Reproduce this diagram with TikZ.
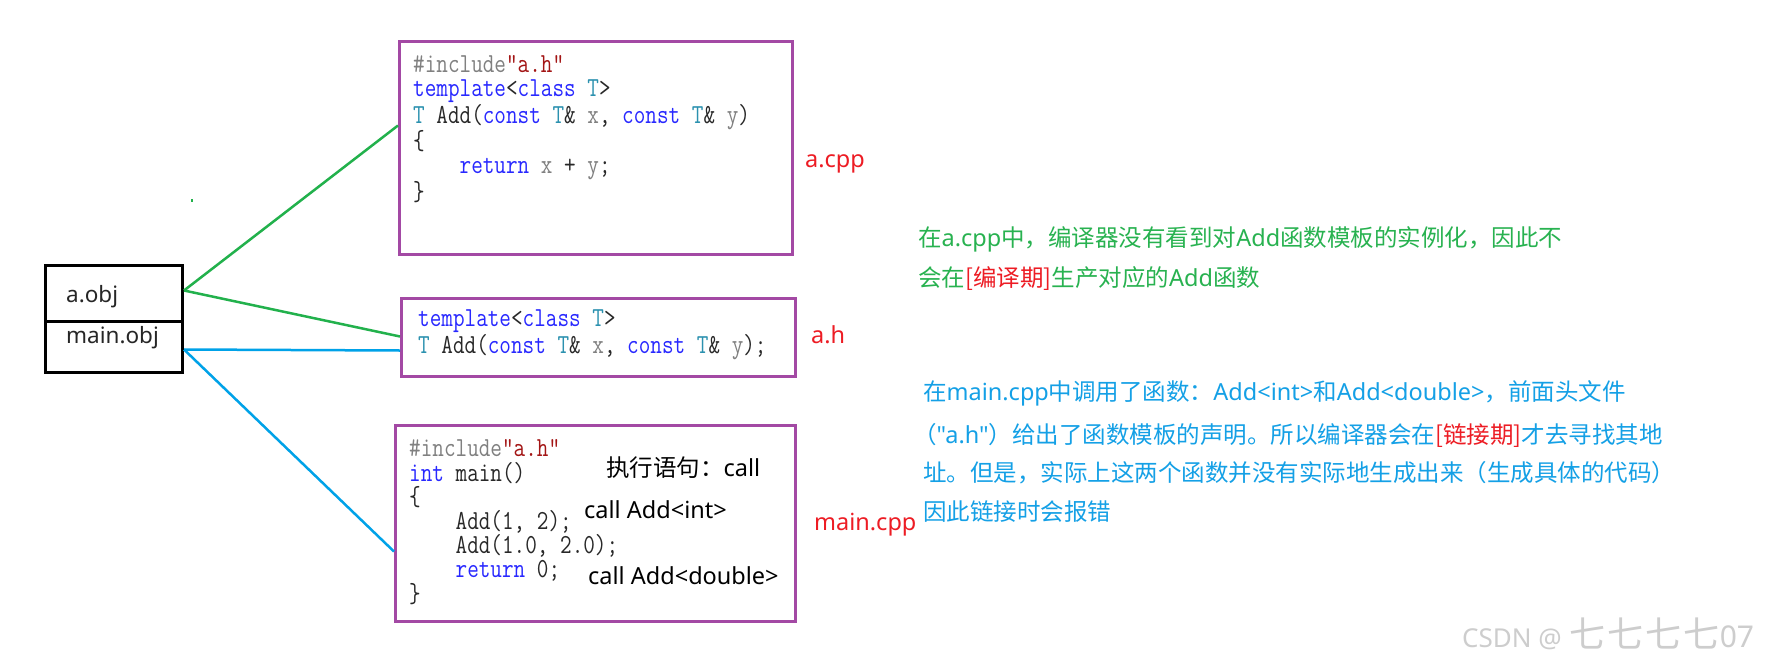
\documentclass[tikz,border=0pt]{standalone}
\usepackage{fontspec}
\setmainfont{Noto Sans CJK SC}
\newfontfamily\lat{Noto Sans}
\newfontfamily\codefont{Latin Modern Mono}[FakeStretch=0.82]
\definecolor{boxpurple}{RGB}{163,73,164}
\definecolor{lgreen}{RGB}{34,177,76}
\definecolor{lblue}{RGB}{0,162,232}
\definecolor{lred}{RGB}{237,28,36}
\definecolor{tgreen}{RGB}{40,178,80}
\definecolor{tblue}{RGB}{20,160,230}
\definecolor{ckw}{RGB}{40,40,255}
\definecolor{cty}{RGB}{43,145,175}
\definecolor{cstr}{RGB}{163,21,21}
\definecolor{cgray}{RGB}{128,128,128}
\definecolor{cdark}{RGB}{40,40,40}
\definecolor{wmgray}{RGB}{205,205,205}
\newcommand\CKw[1]{\textcolor{ckw}{#1}}
\newcommand\CTy[1]{\textcolor{cty}{#1}}
\newcommand\CStr[1]{\textcolor{cstr}{#1}}
\newcommand\CPre[1]{\textcolor{cgray}{#1}}
\newcommand\CVar[1]{\textcolor{cgray}{#1}}
\begin{document}
\begin{tikzpicture}[x=1pt,y=-1pt,
  codebox/.style={draw=boxpurple, line width=3pt, rectangle, inner sep=0pt, anchor=north west},
  objbox/.style={draw=black, line width=3pt, rectangle, inner sep=0pt, anchor=north west, minimum width=137pt},
  code/.style={anchor=base west, align=left, inner sep=0pt, text=cdark, font=\codefont\fontsize{27.5}{24.2}\selectfont},
  gline/.style={draw=lgreen, line width=2.5pt},
  bline/.style={draw=lblue, line width=2.5pt},
  lab/.style={anchor=base west, inner sep=0pt, text=lred, font=\lat\fontsize{23.5}{28}\selectfont},
  note/.style={anchor=base west, inner sep=0pt, text=black, font=\fontsize{23.5}{28}\selectfont},
  objtext/.style={anchor=base west, inner sep=0pt, text=black!85, font=\lat\fontsize{22.5}{26}\selectfont},
  gtext/.style={anchor=base west, inner sep=0pt, text=tgreen, font=\fontsize{23.5}{28}\selectfont},
  btext/.style={anchor=base west, inner sep=0pt, text=tblue, font=\fontsize{23.5}{28}\selectfont}]
\useasboundingbox (0,0) rectangle (1773,672);
\fill[white] (0,0) rectangle (1773,672);

% code boxes
\node[codebox, minimum width=393pt, minimum height=213pt] (acpp) at (398,40) {};
\node[codebox, minimum width=394pt, minimum height=78pt] (ah) at (400,297) {};
\node[codebox, minimum width=400pt, minimum height=196pt] (mcpp) at (394,424) {};

% obj boxes
\node[objbox, minimum height=56pt] (aobj) at (44,264) {};
\node[objbox, minimum height=51pt] (mainobj) at (44,320) {};
\node[objtext] (aobjt) at (66,302) {a.obj};
\node[objtext] (mainobjt) at (66,343) {main.obj};

% connectors
\draw[gline] ([yshift=3pt]aobj.east) -- ([yshift=22.5pt]acpp.west);
\draw[gline] ([yshift=3pt]aobj.east) -- ([yshift=1pt]ah.west);
\draw[bline] ([yshift=-2.5pt]mainobj.east) -- ([yshift=-13pt]ah.west);
\draw[bline] ([yshift=-2.5pt]mainobj.east) -- ([yshift=-28pt]mcpp.west);
\fill[lgreen] (191,199) rectangle (193,202);

% code (anchor = baseline of the last line)
\node[code] (acppcode) at (413,200) {\CPre{\#include}\CStr{"a.h"}\\
\CKw{template}<\CKw{class} \CTy{T}>\\
\CTy{T} Add(\CKw{const} \CTy{T}\& \CVar{x}, \CKw{const} \CTy{T}\& \CVar{y})\\
\{\\
\phantom{xxxx}\CKw{return} \CVar{x} + \CVar{y};\\
\}};
\node[code] (ahcode) at (418,353) {\CKw{template}<\CKw{class} \CTy{T}>\\
\CTy{T} Add(\CKw{const} \CTy{T}\& \CVar{x}, \CKw{const} \CTy{T}\& \CVar{y});};
\node[code] (mcppcode) at (409,602) {\CPre{\#include}\CStr{"a.h"}\\
\CKw{int} main()\\
\{\\
\phantom{xxxx}Add(1, 2);\\
\phantom{xxxx}Add(1.0, 2.0);\\
\phantom{xxxx}\CKw{return} 0;\\
\}};

% notes inside main.cpp
\node[note] (n1) at (606,476) {执行语句：{\lat call}};
\node[note] (n2) at (584,518) {\lat call Add<int>};
\node[note] (n3) at (588,584) {\lat call Add<double>};

% file labels
\node[lab] (acpplab) at (805,167) {a.cpp};
\node[lab] (ahlab) at (811,343) {a.h};
\node[lab] (mcpplab) at (814,530) {main.cpp};

% green explanation
\node[gtext] (g1) at (918,246) {在{\lat a.cpp}中，编译器没有看到对{\lat Add}函数模板的实例化，因此不};
\node[gtext] (g2) at (918,286) {会在\textcolor{lred}{[编译期]}生产对应的{\lat Add}函数};

% blue explanation
\node[btext] (b1) at (923,400) {在{\lat main.cpp}中调用了函数：{\lat Add<int>}和{\lat Add<double>}，前面头文件};
\node[btext] (b2) at (913,443) {（{\lat "a.h"}）给出了函数模板的声明。所以编译器会在\textcolor{lred}{[链接期]}才去寻找其地};
\node[btext] (b3) at (923,481) {址。但是，实际上这两个函数并没有实际地生成出来（生成具体的代码）};
\node[btext] (b4) at (923,520) {因此链接时会报错};

% watermark
\node[anchor=base west, inner sep=0pt, text=wmgray] (wm) at (1462,647) {{\lat\fontsize{26}{30}\selectfont CSDN @}\hspace{8pt}{\fontsize{36}{36}\selectfont 七\hspace{2pt}七\hspace{2pt}七\hspace{2pt}七}{\lat\fontsize{30}{30}\selectfont 07}};
\end{tikzpicture}
\end{document}
